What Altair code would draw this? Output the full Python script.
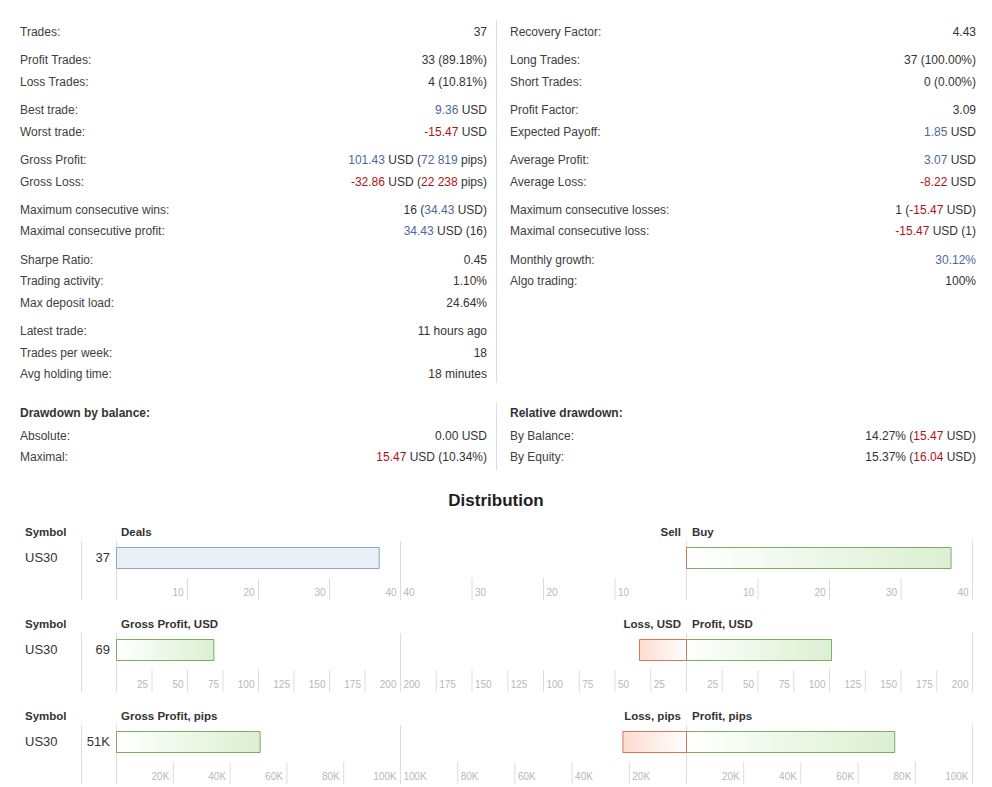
import re

import altair as alt
import pandas as pd

FONT = "Liberation Sans"
LABEL = "#404040"
DARK = "#333333"
BLUE = "#4d689c"
RED = "#ad1515"
LINE = "#dddddd"
TICK_TEXT = "#b8b8b8"

# ---- statistics ----
left_labels = [
    "Trades:", "Profit Trades:", "Loss Trades:", "Best trade:", "Worst trade:",
    "Gross Profit:", "Gross Loss:", "Maximum consecutive wins:",
    "Maximal consecutive profit:", "Sharpe Ratio:", "Trading activity:",
    "Max deposit load:", "Latest trade:", "Trades per week:", "Avg holding time:",
]
left_groups = [0, 1, 1, 2, 2, 3, 3, 4, 4, 5, 5, 5, 6, 6, 6]
left_values = [
    "37", "33 (89.18%)", "4 (10.81%)", "<b>9.36</b> USD", "<r>-15.47</r> USD",
    "<b>101.43</b> USD (<b>72 819</b> pips)", "<r>-32.86</r> USD (<r>22 238</r> pips)",
    "16 (<b>34.43</b> USD)", "<b>34.43</b> USD (16)", "0.45", "1.10%", "24.64%",
    "11 hours ago", "18", "18 minutes",
]
right_labels = [
    "Recovery Factor:", "Long Trades:", "Short Trades:", "Profit Factor:",
    "Expected Payoff:", "Average Profit:", "Average Loss:",
    "Maximum consecutive losses:", "Maximal consecutive loss:",
    "Monthly growth:", "Algo trading:",
]
right_groups = [0, 1, 1, 2, 2, 3, 3, 4, 4, 5, 5]
right_values = [
    "4.43", "37 (100.00%)", "0 (0.00%)", "3.09", "<b>1.85</b> USD", "<b>3.07</b> USD",
    "<r>-8.22</r> USD", "1 (<r>-15.47</r> USD)", "<r>-15.47</r> USD (1)",
    "<b>30.12%</b>", "100%",
]

dd_titles = ["Drawdown by balance:", "Relative drawdown:"]
dd_left_labels = ["Absolute:", "Maximal:"]
dd_left_values = ["0.00 USD", "<r>15.47</r> USD (10.34%)"]
dd_right_labels = ["By Balance:", "By Equity:"]
dd_right_values = ["14.27% (<r>15.47</r> USD)", "15.37% (<r>16.04</r> USD)"]

# ---- distribution ----
symbol = "US30"
dist_left_headers = ["Deals", "Gross Profit, USD", "Gross Profit, pips"]
dist_neg_headers = ["Sell", "Loss, USD", "Loss, pips"]
dist_pos_headers = ["Buy", "Profit, USD", "Profit, pips"]
dist_totals = ["37", "69", "51K"]
dist_net = [37, 68.57, 50581]
dist_neg = [0, 32.86, 22238]
dist_pos = [37, 101.43, 72819]
dist_max = [40, 200, 100000]
dist_ticks = [
    [10, 20, 30, 40],
    [25, 50, 75, 100, 125, 150, 175, 200],
    [20000, 40000, 60000, 80000, 100000],
]
dist_tick_labels = [
    ["10", "20", "30", "40"],
    ["25", "50", "75", "100", "125", "150", "175", "200"],
    ["20K", "40K", "60K", "80K", "100K"],
]

# layout
W, H = 976, 779
COL_L = (12, 479)
COL_R = (502, 968)
ROW_Y = [24, 45.4]
GROUP_GAP = 0.33
DD_POS = 17.8
DD_ROWS = [DD_POS + 1.08, DD_POS + 2.06]
ROW_CENTER = [550, 642]
STEP = 92

# Liberation Sans (Arial metrics) advance widths, per 1000 em
ADV = {" ": 278, ".": 278, ",": 278, "(": 333, ")": 333, "-": 333, "%": 889,
       "U": 722, "S": 667, "D": 722, "p": 556, "i": 222, "s": 500}


def text_width(s, size=12):
    return sum(ADV.get(c, 556) for c in s) * size / 1000


def parse(markup):
    out = []
    for part in re.split(r"(<[br]>.*?</[br]>)", markup):
        if not part:
            continue
        m = re.match(r"<([br])>(.*)</\1>", part)
        if m:
            out.append((m.group(2), BLUE if m.group(1) == "b" else RED))
        else:
            out.append((part, DARK))
    return out


recs = []


def add_rows(labels, values, positions, col):
    for lab, val, pos in zip(labels, values, positions):
        recs.append(dict(kind="label", text=lab, x=col[0], pos=pos, color=LABEL))
        right = col[1]
        for txt, color in reversed(parse(val)):
            recs.append(dict(kind="value", text=txt, x=right, pos=pos, color=color))
            right -= text_width(txt)


add_rows(left_labels, left_values, [i + GROUP_GAP * g for i, g in enumerate(left_groups)], COL_L)
add_rows(right_labels, right_values, [i + GROUP_GAP * g for i, g in enumerate(right_groups)], COL_R)
for title, col in zip(dd_titles, (COL_L, COL_R)):
    recs.append(dict(kind="title", text=title, x=col[0], pos=DD_POS, color=DARK))
add_rows(dd_left_labels, dd_left_values, DD_ROWS, COL_L)
add_rows(dd_right_labels, dd_right_values, DD_ROWS, COL_R)
stats = pd.DataFrame(recs)

y_stat = alt.Y("pos:Q", axis=None, scale=alt.Scale(domain=[0, 1], range=ROW_Y))
sbase = alt.Chart(stats).encode(
    x=alt.X("x:Q", scale=None, axis=None), y=y_stat, text="text:N"
)
stat_labels = sbase.transform_filter("datum.kind == 'label'").mark_text(
    align="left", baseline="middle", font=FONT, fontSize=12, color=LABEL
)
stat_titles = sbase.transform_filter("datum.kind == 'title'").mark_text(
    align="left", baseline="middle", font=FONT, fontSize=12, fontWeight="bold", color=DARK
)
stat_values = sbase.transform_filter("datum.kind == 'value'").mark_text(
    align="right", baseline="middle", font=FONT, fontSize=12
).encode(color=alt.Color("color:N", scale=None))

one = pd.DataFrame({"a": [0]})
dividers = [
    alt.Chart(one).mark_rule(color=LINE).encode(
        x=alt.value(488.5), y=alt.value(y0), y2=alt.value(y1)
    )
    for y0, y1 in ((12, 375), (395, 462))
]

# ---- distribution layers ----
left_x = alt.Scale(domain=[0, 1], range=[108.5, 392.5])
neg_x = alt.Scale(domain=[0, 1], range=[678.5, 392.5])
pos_x = alt.Scale(domain=[0, 1], range=[678.5, 964.5])


def xq(field, scale):
    return alt.X(field, scale=scale, axis=None)


def yq(field):
    return alt.Y(field, axis=None, scale=alt.Scale(domain=[0, 1], range=ROW_CENTER))


bars = pd.DataFrame([
    {"ri": r, "panel": p, "value": vals[r], "max": dist_max[r]}
    for p, vals in (("net", dist_net), ("neg", dist_neg), ("pos", dist_pos))
    for r in range(3)
])
ticks = pd.DataFrame([
    {"ri": r, "value": v, "label": lab, "max": dist_max[r]}
    for r in range(3)
    for v, lab in zip(dist_ticks[r], dist_tick_labels[r])
])
frames = pd.DataFrame([{"ri": r, "f": f} for r in range(3) for f in (0, 1)])

green = alt.Gradient(
    gradient="linear", x1=0, x2=1, y1=0, y2=0,
    stops=[alt.GradientStop(color="#ffffff", offset=0),
           alt.GradientStop(color="#dcefd2", offset=1)],
)
red = alt.Gradient(
    gradient="linear", x1=0, x2=1, y1=0, y2=0,
    stops=[alt.GradientStop(color="#fcdccf", offset=0),
           alt.GradientStop(color="#ffffff", offset=1)],
)


def bar_layer(flt, scale, fill, stroke):
    return (
        alt.Chart(bars)
        .transform_filter(flt)
        .transform_calculate(
            frac="datum.value / datum.max", zero="0",
            top=f"datum.ri - {10.5 / STEP}", bot=f"datum.ri + {10.5 / STEP}",
        )
        .mark_rect(fill=fill, stroke=stroke, strokeWidth=1)
        .encode(x=xq("zero:Q", scale), x2=alt.X2("frac"), y=yq("top:Q"), y2=alt.Y2("bot"))
    )


def tick_layers(scale, align, dx):
    base = alt.Chart(ticks).transform_calculate(
        frac="datum.value / datum.max",
        y0=f"datum.ri + {20 / STEP}", y1=f"datum.ri + {42 / STEP}",
    )
    rules = base.mark_rule(color=LINE).encode(
        x=xq("frac:Q", scale), y=yq("y0:Q"), y2=alt.Y2("y1")
    )
    labels = base.mark_text(
        align=align, baseline="middle", dx=dx, dy=34.5,
        font=FONT, fontSize=10, color=TICK_TEXT,
    ).encode(x=xq("frac:Q", scale), y=yq("ri:Q"), text="label:N")
    return [rules, labels]


def frame_layer(scale):
    return (
        alt.Chart(frames)
        .transform_calculate(y0=f"datum.ri - {17 / STEP}", y1=f"datum.ri + {42 / STEP}")
        .mark_rule(color=LINE)
        .encode(x=xq("f:Q", scale), y=yq("y0:Q"), y2=alt.Y2("y1"))
    )


sym_frame = (
    alt.Chart(frames)
    .transform_filter("datum.f == 0")
    .transform_calculate(y0=f"datum.ri - {17 / STEP}", y1=f"datum.ri + {42 / STEP}")
    .mark_rule(color=LINE)
    .encode(x=alt.value(73.5), y=yq("y0:Q"), y2=alt.Y2("y1"))
)

drecs = []
for r in range(3):
    drecs += [
        dict(ri=r, kind="hl", text="Symbol", x=17),
        dict(ri=r, kind="hl", text=dist_left_headers[r], x=113),
        dict(ri=r, kind="hl", text=dist_pos_headers[r], x=684),
        dict(ri=r, kind="hr", text=dist_neg_headers[r], x=673),
        dict(ri=r, kind="vl", text=symbol, x=17),
        dict(ri=r, kind="vr", text=dist_totals[r], x=102),
    ]
dtext = pd.DataFrame(drecs)
dbase = alt.Chart(dtext).encode(
    x=alt.X("x:Q", scale=None, axis=None), y=yq("ri:Q"), text="text:N"
)


def dtext_layer(kind, **kw):
    return dbase.transform_filter(f"datum.kind == '{kind}'").mark_text(
        baseline="middle", font=FONT, color=DARK, **kw
    )


dist_texts = [
    dtext_layer("hl", align="left", dy=-25.5, fontSize=11.5, fontWeight="bold"),
    dtext_layer("hr", align="right", dy=-25.5, fontSize=11.5, fontWeight="bold"),
    dtext_layer("vl", align="left", dy=0, fontSize=13),
    dtext_layer("vr", align="right", dy=0, fontSize=13),
]

title = alt.Chart(one).mark_text(
    text="Distribution", align="center", baseline="middle",
    font=FONT, fontSize=17, fontWeight="bold", color="#1e1e1e",
).encode(x=alt.value(488), y=alt.value(492.5))

layers = (
    [stat_labels, stat_titles, stat_values] + dividers + [title]
    + [frame_layer(left_x), frame_layer(pos_x), sym_frame]
    + tick_layers(left_x, "right", -4)
    + tick_layers(neg_x, "left", 3)
    + tick_layers(pos_x, "right", -4)
    + [
        bar_layer("datum.panel == 'net' && datum.ri == 0", left_x, "#e9f0f8", "#8ca6c8"),
        bar_layer("datum.panel == 'net' && datum.ri > 0", left_x, green, "#79ae5f"),
        bar_layer("datum.panel == 'pos'", pos_x, green, "#79ae5f"),
        bar_layer("datum.panel == 'neg'", neg_x, red, "#d8765c"),
    ]
    + dist_texts
)

chart = (
    alt.layer(*layers)
    .resolve_scale(x="independent", y="independent")
    .properties(width=W, height=H, padding=0, autosize=alt.AutoSizeParams(type="none"))
    .configure_view(stroke=None)
)

chart.save("out.html", embed_options={"renderer": "svg", "actions": False})
